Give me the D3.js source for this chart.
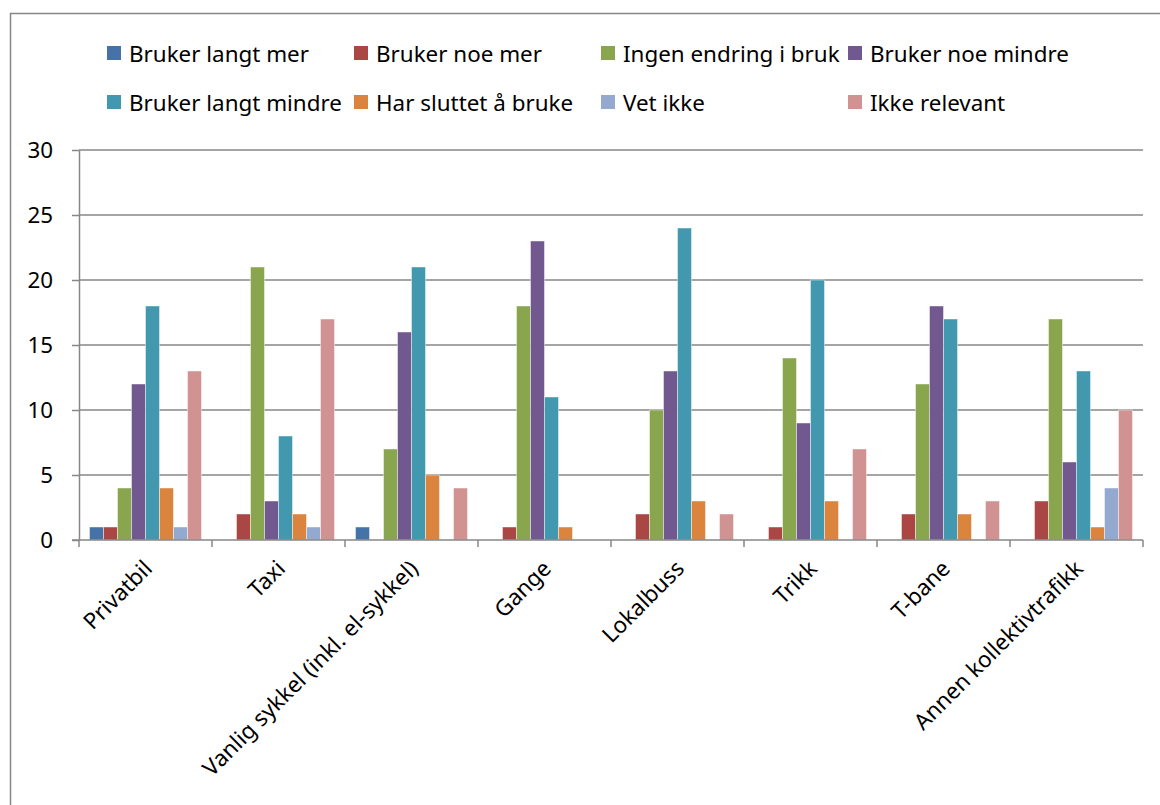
<!DOCTYPE html>
<html>
<head>
<meta charset="utf-8">
<script src="https://cdn.jsdelivr.net/npm/d3@7"></script>
<style>
  html, body { margin: 0; padding: 0; background: #fff; }
  svg { display: block; }
  text { font-family: "Noto Sans", "Open Sans", sans-serif; fill: #000; }
</style>
</head>
<body>
<svg id="chart" width="1160" height="805"></svg>
<script>
// Transport modes on the x axis
const categories = ["Privatbil", "Taxi", "Vanlig sykkel (inkl. el-sykkel)", "Gange",
                    "Lokalbuss", "Trikk", "T-bane", "Annen kollektivtrafikk"];

// Response options (one bar series each)
const seriesNames = ["Bruker langt mer", "Bruker noe mer", "Ingen endring i bruk", "Bruker noe mindre",
                     "Bruker langt mindre", "Har sluttet å bruke", "Vet ikke", "Ikke relevant"];

// Counts per response option, in category order
const brukerLangtMer   = [1, 0, 1, 0, 0, 0, 0, 0];
const brukerNoeMer     = [1, 2, 0, 1, 2, 1, 2, 3];
const ingenEndring     = [4, 21, 7, 18, 10, 14, 12, 17];
const brukerNoeMindre  = [12, 3, 16, 23, 13, 9, 18, 6];
const brukerLangtMindre= [18, 8, 21, 11, 24, 20, 17, 13];
const harSluttet       = [4, 2, 5, 1, 3, 3, 2, 1];
const vetIkke          = [1, 1, 0, 0, 0, 0, 0, 4];
const ikkeRelevant     = [13, 17, 4, 0, 2, 7, 3, 10];

const yTicks = [0, 5, 10, 15, 20, 25, 30];

const seriesValues = [brukerLangtMer, brukerNoeMer, ingenEndring, brukerNoeMindre,
                      brukerLangtMindre, harSluttet, vetIkke, ikkeRelevant];
const colors = ["#4572A7", "#AA4643", "#89A54E", "#71588F",
                "#4198AF", "#DB843D", "#93A9CF", "#D19392"];

const svg = d3.select("#chart");
const plot = { left: 79, right: 1143, top: 150, bottom: 540 };
const gridColor = "#878787";
const fontSize = 22.4;

// Outer frame (runs off the right and bottom edges)
svg.append("rect")
  .attr("x", 10.5).attr("y", 13.5)
  .attr("width", 1200).attr("height", 900)
  .attr("fill", "none").attr("stroke", gridColor).attr("stroke-width", 1.5);

const x0 = d3.scaleBand().domain(categories).range([plot.left, plot.right]).padding(0);
const x1 = d3.scaleBand().domain(d3.range(seriesNames.length))
  .range([0, x0.bandwidth()]).paddingInner(0).paddingOuter(0.75);
const y = d3.scaleLinear().domain([0, 30]).range([plot.bottom, plot.top]);

// Horizontal gridlines + y axis labels
const yAxis = d3.axisLeft(y).tickValues(yTicks).tickSize(7).tickSizeOuter(0).tickPadding(19);
const gy = svg.append("g").attr("transform", `translate(${plot.left},0)`).call(yAxis);
gy.select(".domain").attr("stroke", gridColor).attr("stroke-width", 1.5);
gy.selectAll(".tick line").attr("stroke", gridColor).attr("stroke-width", 1.5);
gy.selectAll(".tick text").attr("font-size", fontSize).attr("font-family", "Noto Sans").attr("fill", "#000");

svg.append("g").selectAll("line")
  .data(yTicks.filter(d => d > 0))
  .join("line")
  .attr("x1", plot.left).attr("x2", plot.right)
  .attr("y1", d => y(d)).attr("y2", d => y(d))
  .attr("stroke", gridColor).attr("stroke-width", 1.5);

// Bars
const groups = svg.append("g").selectAll("g")
  .data(categories)
  .join("g")
  .attr("transform", d => `translate(${x0(d)},0)`);

groups.selectAll("rect")
  .data((c, ci) => seriesValues.map((vals, si) => ({ si, v: vals[ci] })))
  .join("rect")
  .filter(d => d.v > 0)
  .attr("x", d => x1(d.si))
  .attr("width", x1.bandwidth())
  .attr("y", d => y(d.v))
  .attr("height", d => y(0) - y(d.v))
  .attr("fill", d => colors[d.si])
  .attr("stroke", "rgba(255,255,255,0.55)")
  .attr("stroke-width", 0.8);

// X axis baseline with category boundary ticks
const xAxisG = svg.append("g");
xAxisG.append("line")
  .attr("x1", plot.left - 7).attr("x2", plot.right)
  .attr("y1", plot.bottom).attr("y2", plot.bottom)
  .attr("stroke", gridColor).attr("stroke-width", 1.5);
xAxisG.selectAll("line.sep")
  .data(categories.map(c => x0(c)).concat([plot.right]))
  .join("line")
  .attr("class", "sep")
  .attr("x1", d => d).attr("x2", d => d)
  .attr("y1", plot.bottom).attr("y2", plot.bottom + 7)
  .attr("stroke", gridColor).attr("stroke-width", 1.5);

// Rotated category labels
xAxisG.selectAll("text")
  .data(categories)
  .join("text")
  .attr("transform", d => `translate(${x0(d) + x0.bandwidth() / 2 + 2},${plot.bottom + 24}) rotate(-45)`)
  .attr("text-anchor", "end")
  .attr("dominant-baseline", "central")
  .attr("font-size", fontSize)
  .text(d => d);

// Legend: two rows of four
const legend = svg.append("g").selectAll("g")
  .data(seriesNames)
  .join("g")
  .attr("transform", (d, i) => `translate(${107 + (i % 4) * 247},${53 + Math.floor(i / 4) * 49})`);
legend.append("rect")
  .attr("x", 0).attr("y", -7).attr("width", 14).attr("height", 14)
  .attr("fill", (d, i) => colors[i]);
legend.append("text")
  .attr("x", 22).attr("y", 0)
  .attr("dominant-baseline", "central")
  .attr("font-size", fontSize)
  .text(d => d);
</script>
</body>
</html>
